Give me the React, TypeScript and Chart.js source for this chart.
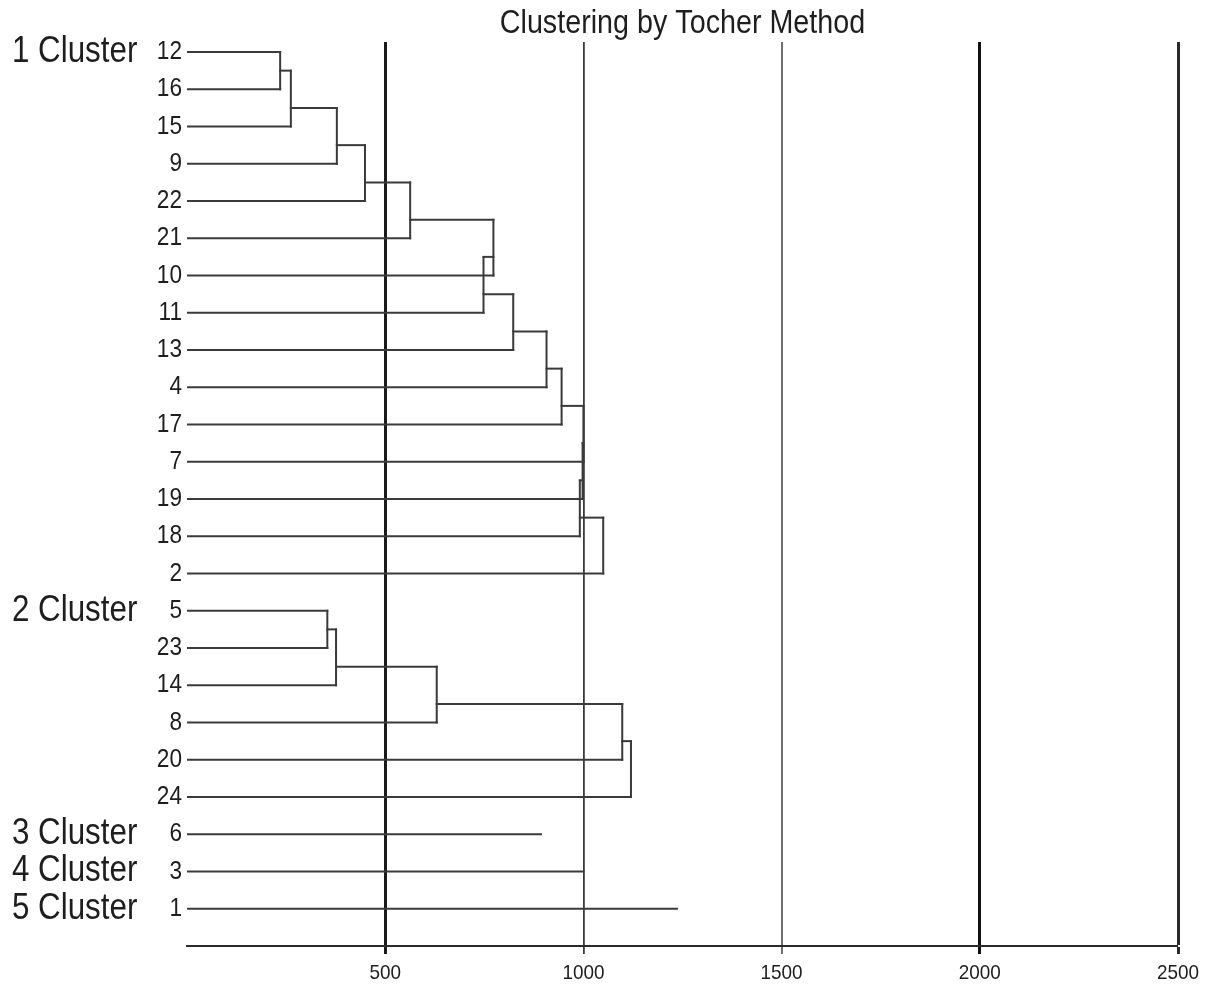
import React, { useEffect, useRef } from 'react';
import { Chart, registerables } from 'chart.js';

Chart.register(...registerables);

const chartTitle = 'Clustering by Tocher Method';
const clusterNames = ['1 Cluster', '2 Cluster', '3 Cluster', '4 Cluster', '5 Cluster'];

const cluster1Leaves = ['12', '16', '15', '9', '22', '21', '10', '11', '13', '4', '17', '7', '19', '18', '2'];
const cluster1Merges = [235, 262, 378, 449, 563, 773, 748, 823, 907, 945, 1000, 998, 991, 1050];

const cluster2Leaves = ['5', '23', '14', '8', '20', '24'];
const cluster2Merges = [354, 376, 630, 1098, 1120];

const cluster3Leaves = ['6'];
const cluster3Distance = [893];
const cluster4Leaves = ['3'];
const cluster4Distance = [1000];
const cluster5Leaves = ['1'];
const cluster5Distance = [1236];

const xTickValues = [0, 500, 1000, 1500, 2000, 2500];
const xGridWidths = [0, 3, 1.8, 2, 3, 3];
const xGridColors = ['rgba(0,0,0,0)', '#1a1a1a', '#3a3a3a', '#707070', '#111111', '#2a2a2a'];

const FONT = "'Liberation Sans', Arial, sans-serif";
const LINE_COLOR = '#3a3a3a';
const TEXT_COLOR = '#1e1e1e';

const clusters = [
  { name: clusterNames[0], leaves: cluster1Leaves, merges: cluster1Merges },
  { name: clusterNames[1], leaves: cluster2Leaves, merges: cluster2Merges },
  { name: clusterNames[2], leaves: cluster3Leaves, merges: cluster3Distance },
  { name: clusterNames[3], leaves: cluster4Leaves, merges: cluster4Distance },
  { name: clusterNames[4], leaves: cluster5Leaves, merges: cluster5Distance },
];

function buildModel() {
  const leafLabels: string[] = [];
  const clusterRows: number[] = [];
  const segments: { x: number; y: number }[][] = [];
  const seg = (x1: number, y1: number, x2: number, y2: number) =>
    segments.push([
      { x: x1, y: y1 },
      { x: x2, y: y2 },
    ]);
  let row = 0;
  clusters.forEach((c) => {
    const start = row;
    clusterRows.push(start);
    c.leaves.forEach((lab, k) => {
      leafLabels.push(lab);
      const h = c.merges[Math.max(0, k - 1)];
      seg(0, start + k, h, start + k);
    });
    if (c.leaves.length > 1) {
      c.merges.forEach((h, j) => {
        const top = j === 0 ? start : start + j - 0.5;
        const bottom = start + j + 1;
        seg(h, top, h, bottom);
        if (j > 0) seg(c.merges[j - 1], start + j - 0.5, h, start + j - 0.5);
      });
    }
    row += c.leaves.length;
  });
  return { leafLabels, clusterRows, segments, rowCount: row };
}

// Draws all chart text slightly condensed horizontally, as in the reference.
const condensePlugin = {
  id: 'condenseText',
  beforeDraw(chart: any) {
    const ctx = chart.ctx as any;
    const orig = CanvasRenderingContext2D.prototype.fillText;
    ctx.fillText = function (text: string, x: number, y: number, maxWidth?: number) {
      const m = /(\d+(?:\.\d+)?)px/.exec(this.font);
      const size = m ? parseFloat(m[1]) : 12;
      const f = size <= 22 ? 0.9 : 0.87;
      this.save();
      this.translate(x, y);
      this.scale(f, 1);
      if (maxWidth !== undefined) orig.call(this, text, 0, 0, maxWidth / f);
      else orig.call(this, text, 0, 0);
      this.restore();
    };
  },
  afterDraw(chart: any) {
    delete (chart.ctx as any).fillText;
  },
};

export default function App() {
  const ref = useRef<HTMLCanvasElement | null>(null);

  useEffect(() => {
    document.body.style.margin = '0';
    const canvas = ref.current;
    if (!canvas) return;
    const { leafLabels, clusterRows, segments, rowCount } = buildModel();

    const datasets = segments.map((pts) => ({
      data: pts,
      showLine: true,
      borderColor: LINE_COLOR,
      borderWidth: 2,
      borderCapStyle: 'square' as const,
      pointRadius: 0,
      fill: false,
      tension: 0,
    }));

    const yMin = -0.27;
    const yMax = rowCount;

    const chart = new Chart(canvas, {
      type: 'scatter',
      data: { datasets },
      plugins: [condensePlugin],
      options: {
        animation: false,
        responsive: false,
        events: [],
        layout: { padding: { left: 12, right: 36, top: 0, bottom: 0 } },
        plugins: {
          legend: { display: false },
          tooltip: { enabled: false },
          title: {
            display: true,
            text: chartTitle,
            fullSize: false,
            color: TEXT_COLOR,
            font: { family: FONT, size: 33, weight: 'normal', lineHeight: 1.12 },
            padding: { top: 5, bottom: 0 },
          },
        },
        scales: {
          x: {
            type: 'linear',
            position: 'bottom',
            min: 0,
            max: 2500,
            afterBuildTicks: (scale: any) => {
              scale.ticks = xTickValues.map((v) => ({ value: v }));
            },
            afterFit: (scale: any) => {
              scale.height = 40;
            },
            ticks: {
              autoSkip: false,
              maxRotation: 0,
              padding: 7,
              color: TEXT_COLOR,
              font: { family: FONT, size: 21 },
              callback: (v: any) => (Number(v) === 0 ? '' : String(v)),
            },
            grid: {
              display: true,
              drawOnChartArea: true,
              drawTicks: true,
              tickLength: 8,
              color: (ctx: any) => xGridColors[xTickValues.indexOf(ctx.tick ? ctx.tick.value : -1)] || 'rgba(0,0,0,0)',
              lineWidth: (ctx: any) => xGridWidths[xTickValues.indexOf(ctx.tick ? ctx.tick.value : -1)] || 0,
            },
            border: { display: true, color: '#2a2a2a', width: 2 },
          },
          y: {
            type: 'linear',
            position: 'left',
            weight: 0,
            reverse: true,
            min: yMin,
            max: yMax,
            afterBuildTicks: (scale: any) => {
              scale.ticks = leafLabels.map((_, i) => ({ value: i }));
            },
            afterFit: (scale: any) => {
              scale.width = 47;
            },
            ticks: {
              autoSkip: false,
              padding: 5,
              color: TEXT_COLOR,
              font: { family: FONT, size: 26 },
              callback: (v: any) => leafLabels[Math.round(Number(v))] ?? '',
            },
            grid: { display: false, drawTicks: false },
            border: { display: false },
          },
          yc: {
            type: 'linear',
            position: 'left',
            weight: 1,
            reverse: true,
            min: yMin,
            max: yMax,
            afterBuildTicks: (scale: any) => {
              scale.ticks = clusterRows.map((r) => ({ value: r }));
            },
            afterFit: (scale: any) => {
              scale.width = 128;
            },
            ticks: {
              autoSkip: false,
              padding: 0,
              crossAlign: 'far',
              color: TEXT_COLOR,
              font: { family: FONT, size: 36 },
              callback: (v: any) => {
                const i = clusterRows.indexOf(Math.round(Number(v)));
                return i >= 0 ? clusterNames[i] : '';
              },
            },
            grid: { display: false, drawTicks: false },
            border: { display: false },
          },
        },
      } as any,
    });
    return () => chart.destroy();
  }, []);

  return (
    <div style={{ width: 1214, height: 986, background: '#ffffff' }}>
      <canvas ref={ref} width={1214} height={986} style={{ display: 'block' }} />
    </div>
  );
}
